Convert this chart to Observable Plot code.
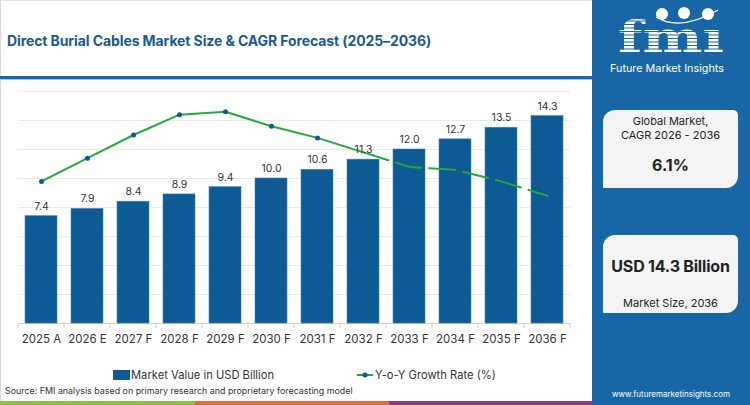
<!DOCTYPE html>
<html>
<head>
<meta charset="utf-8">
<script src="https://cdn.jsdelivr.net/npm/d3@7"></script>
<script src="https://cdn.jsdelivr.net/npm/@observablehq/plot@0.6"></script>
<style>
  html, body { margin: 0; padding: 0; background: #fff; }
  #wrap { position: relative; width: 750px; height: 405px; overflow: hidden; font-family: Inter, "Open Sans", sans-serif; background: #fff; }
  .abs { position: absolute; }
  #title { left: 7px; top: 32px; font-size: 14px; font-weight: 700; color: #1a5a8f; white-space: nowrap; letter-spacing: -0.1px; }
  #rule1 { left: 0; top: 76px; width: 592px; height: 3px; background: #1a67a8; }
  #rule2 { left: 0; top: 79px; width: 592px; height: 1px; background: #9cc6e8; }
  #leftb { left: 0; top: 0; width: 1px; height: 405px; background: #d8d8d8; }
  #topb { left: 0; top: 0; width: 592px; height: 1px; background: #e4e4e4; }
  #panel { left: 592px; top: 0; width: 158px; height: 405px; background: #1866a6; }
  .card { position: absolute; left: 603px; width: 135px; height: 78px; background: #f4f4f4; border-radius: 12px 5px 12px 1px; text-align: center; color: #222; }
  #chart { left: 0; top: 80px; }
  .leg { font-size: 11.2px; color: #333; white-space: nowrap; }
  #source { left: 5px; top: 385px; font-size: 8.9px; color: #333; white-space: nowrap; }
  .strip { top: 401px; height: 4px; }
</style>
</head>
<body>
<div id="wrap">
  <div class="abs" id="topb"></div>
  <div class="abs" id="leftb"></div>
  <div class="abs" id="title">Direct Burial Cables Market Size &amp; CAGR Forecast (2025–2036)</div>
  <div class="abs" id="rule1"></div>
  <div class="abs" id="rule2"></div>
  <div class="abs" id="chart"></div>

  <div class="abs" style="left:113px; top:370px; width:17px; height:10px; background:#0d5a94;"></div>
  <div class="abs leg" style="left:131px; top:368px;">Market Value in USD Billion</div>
  <svg class="abs" style="left:355px; top:368px;" width="20" height="14">
    <line x1="2" y1="7" x2="18" y2="7" stroke="#22aa3a" stroke-width="2"/>
    <circle cx="10" cy="7" r="2.5" fill="#0d5a94"/>
  </svg>
  <div class="abs leg" style="left:375px; top:368px;">Y-o-Y Growth Rate (%)</div>
  <div class="abs" id="source">Source: FMI analysis based on primary research and proprietary forecasting model</div>

  <div class="abs strip" style="left:0; width:195px; background:#8cc04b;"></div>
  <div class="abs strip" style="left:195px; width:194px; background:#e5673a;"></div>
  <div class="abs strip" style="left:389px; width:203px; background:#8a3a8c;"></div>

  <div class="abs" id="panel"></div>
  <svg class="abs" style="left:600px; top:0;" width="150" height="80">
    <text x="18" y="52" font-family="DejaVu Serif" font-weight="700" font-size="42" fill="#fff" textLength="106" lengthAdjust="spacingAndGlyphs">fmı</text>
    <g stroke="#1866a6" stroke-width="1.1">
      <line x1="10" x2="140" y1="17.5" y2="17.5"/>
      <line x1="10" x2="140" y1="21" y2="21"/><line x1="10" x2="140" y1="24.5" y2="24.5"/>
      <line x1="10" x2="140" y1="28" y2="28"/><line x1="10" x2="140" y1="31.5" y2="31.5"/>
      <line x1="10" x2="140" y1="35" y2="35"/><line x1="10" x2="140" y1="38.5" y2="38.5"/>
      <line x1="10" x2="140" y1="42" y2="42"/><line x1="10" x2="140" y1="45.5" y2="45.5"/>
      <line x1="10" x2="140" y1="49" y2="49"/>
    </g>
    <circle cx="62" cy="14" r="6" fill="#fff"/>
    <circle cx="84" cy="13" r="6" fill="#fff"/>
    <circle cx="108" cy="14" r="6" fill="#fff"/>
    <path d="M56 17 Q 80 32 118 10" fill="none" stroke="#fff" stroke-width="1.2"/>
    <text x="67" y="72" text-anchor="middle" font-family="Inter, sans-serif" font-size="10.8" fill="#fff">Future Market Insights</text>
  </svg>

  <div class="card" style="top:110px;">
    <div style="margin-top:4px; font-size:11px; line-height:14px;">Global Market,<br>CAGR 2026 - 2036</div>
    <div style="margin-top:13px; font-size:16px; font-weight:700;">6.1%</div>
  </div>
  <div class="card" style="top:235px;">
    <div style="margin-top:21px; font-size:16px; font-weight:700; letter-spacing:-0.2px;">USD 14.3 Billion</div>
    <div style="margin-top:20px; font-size:11px;">Market Size, 2036</div>
  </div>
  <div class="abs" style="left:592px; width:158px; top:389px; text-align:center; font-size:8px; color:#fff;">www.futuremarketinsights.com</div>
</div>

<script>
const categories = ["2025 A","2026 E","2027 F","2028 F","2029 F","2030 F","2031 F","2032 F","2033 F","2034 F","2035 F","2036 F"];
const marketValue = [7.4, 7.9, 8.4, 8.9, 9.4, 10.0, 10.6, 11.3, 12.0, 12.7, 13.5, 14.3];
const yoyGrowth = [5.9, 6.7, 7.5, 8.2, 8.3, 7.8, 7.4, 6.9, 6.4, 6.3, 5.9, 5.4];
const yTicks = [0, 2, 4, 6, 8, 10, 12, 14, 16];
const solidEnd = 7; // index of 2032 F: solid line up to here, dashed after

// growth-rate series drawn against the hidden value axis
const toAxis = r => (r - 1) * 2;

const data = categories.map((c, i) => ({year: c, value: marketValue[i], yoy: yoyGrowth[i], ly: toAxis(yoyGrowth[i])}));
const solid = data.slice(0, solidEnd + 1);
const dashed = data.slice(solidEnd);
const dots = data.slice(0, solidEnd);

const plot = Plot.plot({
  width: 592,
  height: 270,
  marginLeft: 18,
  marginRight: 22,
  marginTop: 11,
  marginBottom: 27,
  style: {fontFamily: "Inter, sans-serif", background: "transparent"},
  x: {domain: categories, paddingInner: 0.3, paddingOuter: 0.15, label: null},
  y: {domain: [0, 16], axis: null},
  marks: [
    Plot.gridY(yTicks, {stroke: "#e9e9e9", strokeOpacity: 1}),
    Plot.ruleY([0], {stroke: "#d0d0d0"}),
    Plot.barY(data, {x: "year", y: "value", fill: "#0d5a94", stroke: "#3f80ba", strokeWidth: 0.6}),
    Plot.line(solid, {x: "year", y: "ly", stroke: "#22aa3a", strokeWidth: 2}),
    Plot.line(dashed, {x: "year", y: "ly", stroke: "#22aa3a", strokeWidth: 2, strokeDasharray: "26,8"}),
    Plot.dot(dots, {x: "year", y: "ly", fill: "#0d5a94", r: 2.5}),
    Plot.text(data, {x: "year", y: "value", text: d => d.value.toFixed(1), dy: -10, fontSize: 10.5, fill: "#333", ariaLabel: "bar-labels"}),
    Plot.axisX({tickSize: 0, tickPadding: 11, fontSize: 11.5, color: "#333"})
  ]
});
document.getElementById("chart").appendChild(plot);

// label backgrounds: a light box behind each value label
const svg = d3.select(plot);
const labelNodes = Array.from(plot.querySelectorAll("text")).filter(t => /^\d+\.\d$/.test(t.textContent.trim()));
labelNodes.forEach(t => {
  const b = t.getBBox();
  const r = document.createElementNS("http://www.w3.org/2000/svg", "rect");
  r.setAttribute("x", b.x - 3);
  r.setAttribute("y", b.y - 1.5);
  r.setAttribute("width", b.width + 6);
  r.setAttribute("height", b.height + 3);
  r.setAttribute("fill", "#ebebeb");
  r.setAttribute("stroke", "none");
  t.parentNode.insertBefore(r, t);
});

// small tick marks at band boundaries
const xs = plot.scale("x");
const half = (xs.step - xs.bandwidth) / 2;
const bounds = categories.map(c => xs.apply(c) - half);
bounds.push(xs.apply(categories[categories.length - 1]) + xs.bandwidth + half);
const yBase = plot.scale("y").apply(0);
svg.append("g").selectAll("line").data(bounds).join("line")
  .attr("x1", d => d).attr("x2", d => d)
  .attr("y1", yBase).attr("y2", yBase + 5)
  .attr("stroke", "#cfcfcf");
</script>
</body>
</html>
